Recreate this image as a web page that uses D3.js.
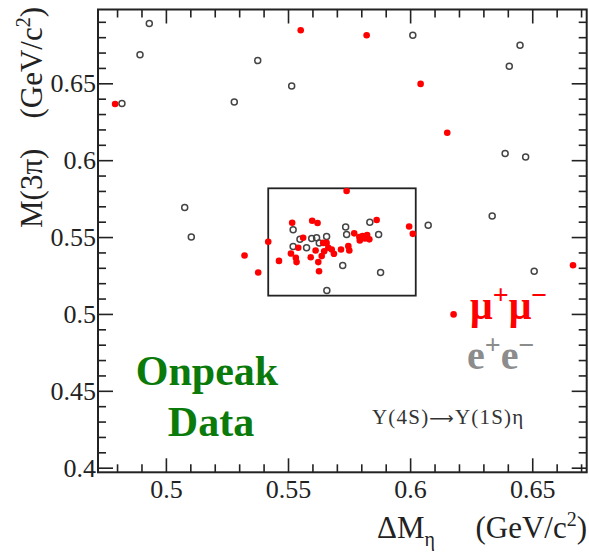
<!DOCTYPE html>
<html>
<head>
<meta charset="utf-8">
<script src="https://cdn.jsdelivr.net/npm/d3@7"></script>
<style>
  body { margin: 0; background: #fff; }
  svg { display: block; font-family: "Liberation Serif", "Times New Roman", serif; }
</style>
</head>
<body>
<svg id="chart"></svg>
<script>
// mu+mu- candidates: [deltaM_eta, M(3pi)] in GeV/c^2
const muPoints = [
  [0.4792, 0.6365], [0.5552, 0.6845], [0.5822, 0.6813], [0.6043, 0.6496],
  [0.6152, 0.6178], [0.5740, 0.5800], [0.5322, 0.5380], [0.5378, 0.5269],
  [0.5419, 0.5469], [0.5463, 0.5345], [0.6667, 0.5317], [0.6178, 0.4997],
  [0.5517, 0.5593], [0.5599, 0.5606], [0.5621, 0.5591], [0.5863, 0.5611],
  [0.5996, 0.5569], [0.6011, 0.5521], [0.5562, 0.5495], [0.5512, 0.5393],
  [0.5532, 0.5365], [0.5535, 0.5337], [0.5542, 0.5430], [0.5593, 0.5369],
  [0.5613, 0.5413], [0.5624, 0.5337], [0.5627, 0.5278], [0.5638, 0.5376],
  [0.5648, 0.5408], [0.5644, 0.5462], [0.5658, 0.5462], [0.5665, 0.5430],
  [0.5679, 0.5419], [0.5688, 0.5391], [0.5717, 0.5419], [0.5747, 0.5441],
  [0.5751, 0.5413], [0.5771, 0.5524], [0.5792, 0.5500], [0.5794, 0.5478],
  [0.5805, 0.5506], [0.5815, 0.5491], [0.5824, 0.5513], [0.5833, 0.5485]
];

// e+e- candidates
const eePoints = [
  [0.4932, 0.6889], [0.4894, 0.6685], [0.4820, 0.6369], [0.5280, 0.6378],
  [0.5376, 0.6648], [0.5515, 0.6483], [0.6011, 0.6813], [0.6450, 0.6748],
  [0.6406, 0.6611], [0.6389, 0.6043], [0.6473, 0.6020], [0.5077, 0.5693],
  [0.5104, 0.5500], [0.6074, 0.5576], [0.6336, 0.5637], [0.6508, 0.5278],
  [0.5521, 0.5547], [0.5549, 0.5485], [0.5521, 0.5439], [0.5576, 0.5430],
  [0.5597, 0.5491], [0.5617, 0.5495], [0.5658, 0.5504], [0.5628, 0.5462],
  [0.5736, 0.5565], [0.5740, 0.5517], [0.5835, 0.5596], [0.5871, 0.5517],
  [0.5724, 0.5315], [0.5879, 0.5269], [0.5659, 0.5152]
];

// signal region
const boxX = [0.5419, 0.6023];
const boxY = [0.5119, 0.5817];

const xDomain = [0.4722, 0.6723];
const yDomain = [0.397, 0.698];
const xMajor = [0.5, 0.55, 0.6, 0.65];
const yMajor = [0.4, 0.45, 0.5, 0.55, 0.6, 0.65];
const xMinor = [0.48, 0.49, 0.51, 0.52, 0.53, 0.54, 0.56, 0.57, 0.58, 0.59,
                0.61, 0.62, 0.63, 0.64, 0.66, 0.67];
const yMinor = [0.41, 0.42, 0.43, 0.44, 0.46, 0.47, 0.48, 0.49, 0.51, 0.52,
                0.53, 0.54, 0.56, 0.57, 0.58, 0.59, 0.61, 0.62, 0.63, 0.64,
                0.66, 0.67, 0.68, 0.69];

const W = 589, H = 552;
const margin = { top: 9.5, right: 2.3, bottom: 79.7, left: 98 };
const serif = '"Liberation Serif", "Times New Roman", serif';

const x = d3.scaleLinear().domain(xDomain).range([margin.left, W - margin.right]);
const y = d3.scaleLinear().domain(yDomain).range([H - margin.bottom, margin.top]);

const svg = d3.select('#chart').attr('width', W).attr('height', H);

// ticks on all four sides, pointing inward (ROOT style)
const fmt = d => String(d);
const axes = [
  { make: () => d3.axisBottom(x), at: `translate(0,${y.range()[0]})`, lab: true },
  { make: () => d3.axisTop(x), at: `translate(0,${y.range()[1]})`, lab: false },
  { make: () => d3.axisLeft(y), at: `translate(${x.range()[0]},0)`, lab: true },
  { make: () => d3.axisRight(y), at: `translate(${x.range()[1]},0)`, lab: false }
];
axes.forEach((a, i) => {
  const isX = i < 2;
  const major = a.make().tickValues(isX ? xMajor : yMajor)
    .tickSize(isX ? -14 : -15)
    .tickPadding(isX ? 7 : 2)
    .tickFormat(a.lab ? fmt : '');
  const gm = svg.append('g').attr('transform', a.at).call(major)
    .attr('font-family', serif)
    .attr('font-size', 26);
  gm.select('.domain').remove();
  gm.selectAll('line').attr('stroke', '#222').attr('stroke-width', 1.6);
  gm.selectAll('text').attr('fill', '#222');

  const minor = a.make().tickValues(isX ? xMinor : yMinor)
    .tickSize(-8)
    .tickFormat('');
  const gn = svg.append('g').attr('transform', a.at).call(minor);
  gn.select('.domain').remove();
  gn.selectAll('line').attr('stroke', '#222').attr('stroke-width', 1.6);
});

// frame
svg.append('rect')
  .attr('x', x.range()[0]).attr('y', y.range()[1])
  .attr('width', x.range()[1] - x.range()[0])
  .attr('height', y.range()[0] - y.range()[1])
  .attr('fill', 'none').attr('stroke', '#222').attr('stroke-width', 2);

// signal box
svg.append('rect')
  .attr('x', x(boxX[0])).attr('y', y(boxY[1]))
  .attr('width', x(boxX[1]) - x(boxX[0]))
  .attr('height', y(boxY[0]) - y(boxY[1]))
  .attr('fill', 'none').attr('stroke', '#222').attr('stroke-width', 1.8);

// points
svg.append('g').selectAll('circle')
  .data(eePoints)
  .enter()
  .append('circle')
    .attr('cx', d => x(d[0]))
    .attr('cy', d => y(d[1]))
    .attr('r', 3)
    .attr('fill', 'none')
    .attr('stroke', '#444')
    .attr('stroke-width', 1.5);

svg.append('g').selectAll('circle')
  .data(muPoints)
  .enter()
  .append('circle')
    .attr('cx', d => x(d[0]))
    .attr('cy', d => y(d[1]))
    .attr('r', 3.3)
    .attr('fill', '#ff0000');

// axis titles
const xt = svg.append('text')
  .attr('x', 377).attr('y', 538)
  .attr('font-size', 31).attr('fill', '#222');
xt.append('tspan').text('ΔM');
xt.append('tspan').attr('font-size', 20).attr('dy', 8).text('η');

const xu = svg.append('text')
  .attr('x', 587).attr('y', 538)
  .attr('text-anchor', 'end')
  .attr('font-size', 31).attr('fill', '#222');
xu.append('tspan').text('(GeV/c');
xu.append('tspan').attr('font-size', 20).attr('dy', -12).text('2');
xu.append('tspan').attr('dy', 12).text(')');

const yt = svg.append('g').attr('transform', 'translate(42,228) rotate(-90)');
yt.append('text')
  .attr('x', 0).attr('y', 0)
  .attr('font-size', 31).attr('fill', '#222')
  .text('M(3π)');
const yu = yt.append('text')
  .attr('x', 221).attr('y', 0)
  .attr('text-anchor', 'end')
  .attr('font-size', 31).attr('fill', '#222');
yu.append('tspan').text('(GeV/c');
yu.append('tspan').attr('font-size', 20).attr('dy', -12).text('2');
yu.append('tspan').attr('dy', 12).text(')');

// labels inside the frame
svg.append('text')
  .attr('x', 207).attr('y', 385)
  .attr('text-anchor', 'middle')
  .attr('font-size', 42).attr('font-weight', 'bold').attr('fill', '#0a7a0a')
  .text('Onpeak');
svg.append('text')
  .attr('x', 211).attr('y', 436)
  .attr('text-anchor', 'middle')
  .attr('font-size', 42).attr('font-weight', 'bold').attr('fill', '#0a7a0a')
  .text('Data');

const mm = svg.append('text')
  .attr('x', 470).attr('y', 319)
  .attr('font-size', 40).attr('font-weight', 'bold').attr('fill', '#ff0000');
mm.append('tspan').text('μ');
mm.append('tspan').attr('font-size', 28).attr('dy', -15).text('+');
mm.append('tspan').attr('dy', 15).text('μ');
mm.append('tspan').attr('font-size', 28).attr('dy', -15).text('−');

const ee = svg.append('text')
  .attr('x', 467).attr('y', 369)
  .attr('font-size', 40).attr('font-weight', 'bold').attr('fill', '#8c8c8c');
ee.append('tspan').text('e');
ee.append('tspan').attr('font-size', 28).attr('dy', -15).text('+');
ee.append('tspan').attr('dy', 15).text('e');
ee.append('tspan').attr('font-size', 28).attr('dy', -15).text('−');

const decay = svg.append('text')
  .attr('x', 372).attr('y', 424)
  .attr('font-size', 21).attr('fill', '#333')
  .attr('letter-spacing', 1.2);
decay.append('tspan').text('Υ(4S)');
decay.append('tspan').attr('font-family', '"DejaVu Sans", sans-serif')
  .attr('font-size', 17).text('⟶');
decay.append('tspan').text('Υ(1S)η');
</script>
</body>
</html>
